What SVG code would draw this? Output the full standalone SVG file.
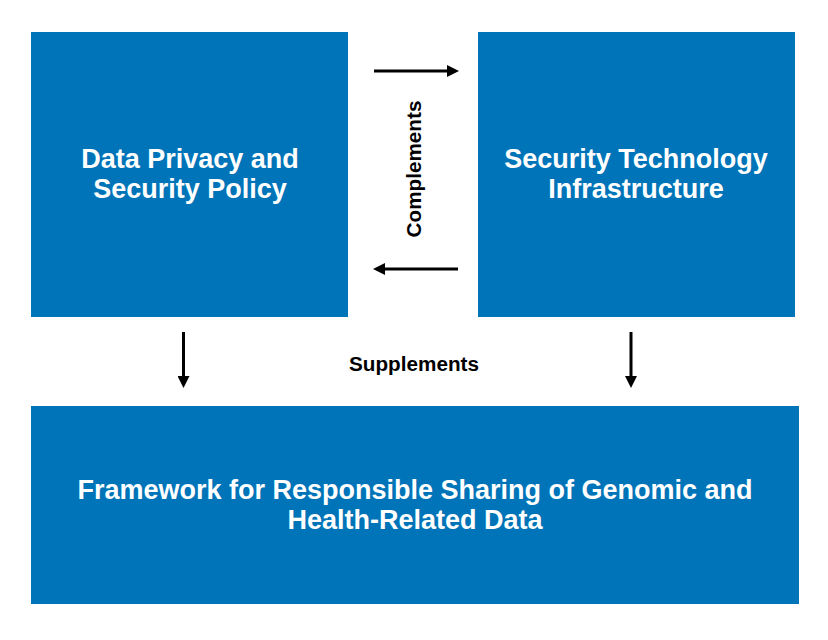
<svg xmlns="http://www.w3.org/2000/svg" width="828" height="640" viewBox="0 0 828 640">
<defs>
<style>
.box{fill:#0074B8;}
.t{font-family:"Liberation Sans",Arial,Helvetica,sans-serif;font-weight:bold;font-size:27px;fill:#ffffff;text-anchor:middle;}
.lbl{font-family:"Liberation Sans",Arial,Helvetica,sans-serif;font-weight:bold;font-size:20.7px;fill:#000000;text-anchor:middle;}
.c{stroke:#000;stroke-width:3;fill:none;}
</style>
<marker id="ah" markerWidth="12" markerHeight="12" viewBox="0 0 12 12" refX="0" refY="6" orient="auto" markerUnits="userSpaceOnUse">
<path d="M0,0 L12,6 L0,12 Z" fill="#000"/>
</marker>
</defs>
<rect width="828" height="640" fill="#ffffff"/>
<g id="policy">
<rect class="box" x="31" y="32" width="317" height="285"/>
<text class="t" x="190" y="168">Data Privacy and</text>
<text class="t" x="190" y="198">Security Policy</text>
</g>
<g id="infrastructure">
<rect class="box" x="478" y="32" width="317" height="285"/>
<text class="t" x="636" y="168">Security Technology</text>
<text class="t" x="636" y="198">Infrastructure</text>
</g>
<g id="framework">
<rect class="box" x="31" y="406" width="768" height="198"/>
<text class="t" x="415" y="499">Framework for Responsible Sharing of Genomic and</text>
<text class="t" x="415" y="529">Health-Related Data</text>
</g>
<g id="connectors">
<line class="c" x1="374" y1="71" x2="447" y2="71" marker-end="url(#ah)"/>
<line class="c" x1="458" y1="269" x2="385" y2="269" marker-end="url(#ah)"/>
<line class="c" x1="183.5" y1="332" x2="183.5" y2="376" marker-end="url(#ah)"/>
<line class="c" x1="631" y1="332" x2="631" y2="376" marker-end="url(#ah)"/>
<text class="lbl" transform="translate(420.5,169) rotate(-90)">Complements</text>
<text class="lbl" x="414" y="371">Supplements</text>
</g>
</svg>
